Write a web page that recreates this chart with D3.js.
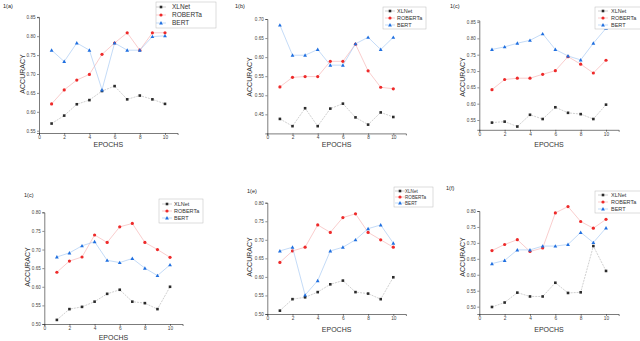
<!DOCTYPE html>
<html>
<head>
<meta charset="utf-8">
<script src="https://cdn.jsdelivr.net/npm/d3@7"></script>
<style>
  body { margin: 0; background: #fff; }
  text { font-family: "Liberation Sans", Arial, sans-serif; }
</style>
</head>
<body>
<div id="container"></div>
<script>
// epochs 1..10 for every panel
const epochs = [1, 2, 3, 4, 5, 6, 7, 8, 9, 10];
const xTicks = [0, 2, 4, 6, 8, 10];

// 1(a)
const xlnetA   = [0.569, 0.590, 0.620, 0.631, 0.655, 0.668, 0.633, 0.643, 0.633, 0.621];
const robertaA = [0.621, 0.658, 0.684, 0.699, 0.752, 0.782, 0.809, 0.763, 0.809, 0.809];
const bertA    = [0.763, 0.733, 0.782, 0.763, 0.658, 0.782, 0.763, 0.763, 0.799, 0.801];
const yTicksA  = [0.55, 0.60, 0.65, 0.70, 0.75, 0.80, 0.85];

// 1(b)
const xlnetB   = [0.438, 0.419, 0.466, 0.419, 0.465, 0.478, 0.442, 0.423, 0.455, 0.443];
const robertaB = [0.522, 0.547, 0.549, 0.549, 0.589, 0.589, 0.634, 0.564, 0.521, 0.517];
const bertB    = [0.684, 0.605, 0.605, 0.620, 0.579, 0.579, 0.635, 0.652, 0.620, 0.652];
const yTicksB  = [0.45, 0.50, 0.55, 0.60, 0.65, 0.70];

// 1(c)
const xlnetC   = [0.542, 0.545, 0.530, 0.566, 0.553, 0.589, 0.572, 0.568, 0.553, 0.597];
const robertaC = [0.643, 0.674, 0.678, 0.678, 0.690, 0.701, 0.744, 0.721, 0.694, 0.733];
const bertC    = [0.766, 0.774, 0.785, 0.794, 0.814, 0.766, 0.746, 0.734, 0.785, 0.831];
const yTicksC  = [0.55, 0.60, 0.65, 0.70, 0.75, 0.80, 0.85];

// 1(d) (labelled 1(c) in the figure)
const xlnetD   = [0.511, 0.540, 0.546, 0.560, 0.581, 0.592, 0.560, 0.556, 0.540, 0.600];
const robertaD = [0.639, 0.669, 0.680, 0.739, 0.719, 0.761, 0.770, 0.719, 0.700, 0.679];
const bertD    = [0.680, 0.691, 0.710, 0.721, 0.671, 0.665, 0.676, 0.650, 0.630, 0.659];
const yTicksD  = [0.50, 0.55, 0.60, 0.65, 0.70, 0.75, 0.80];

// 1(e)
const xlnetE   = [0.509, 0.540, 0.545, 0.559, 0.580, 0.590, 0.559, 0.555, 0.540, 0.599];
const robertaE = [0.639, 0.670, 0.680, 0.740, 0.720, 0.760, 0.770, 0.720, 0.700, 0.680];
const bertE    = [0.670, 0.680, 0.551, 0.590, 0.670, 0.680, 0.700, 0.730, 0.740, 0.691];
const yTicksE  = [0.50, 0.55, 0.60, 0.65, 0.70, 0.75, 0.80];

// 1(f)
const xlnetF   = [0.499, 0.513, 0.544, 0.532, 0.532, 0.575, 0.543, 0.545, 0.690, 0.612];
const robertaF = [0.676, 0.695, 0.710, 0.673, 0.684, 0.794, 0.814, 0.767, 0.746, 0.774];
const bertF    = [0.635, 0.645, 0.678, 0.678, 0.690, 0.690, 0.695, 0.733, 0.701, 0.747];
const yTicksF  = [0.50, 0.55, 0.60, 0.65, 0.70, 0.75, 0.80];

const seriesNames = ["XLNet", "ROBERTa", "BERT"];

// layout of the six little plots (pixels)
const panels = [
  { tag: "1(a)", tx: 3, ty: 8, x0: 39, x1: 177.6, dom: [0.544, 0.851], rng: [133, 16.9],
    ticks: yTicksA, data: [xlnetA, robertaA, bertA], xt: 146.5, yt: 24.5, ytY: 74,
    leg: { x: 156, y: 2, w: 60, h: 26, rows: [7, 15, 23], mx: 161, tx: 172, fs: 6.5 } },
  { tag: "1(b)", tx: 235, ty: 8, x0: 267.3, x1: 405.9, dom: [0.40, 0.70], rng: [133.4, 19],
    ticks: yTicksB, data: [xlnetB, robertaB, bertB], xt: 146.5, yt: 252, ytY: 77,
    leg: { x: 383, y: 7, w: 43, h: 22, rows: [11, 18, 25], mx: 390, tx: 397, fs: 5.5 } },
  { tag: "1(c)", tx: 450, ty: 8, x0: 479.3, x1: 618.7, dom: [0.52, 0.855], rng: [129.8, 20.4],
    ticks: yTicksC, data: [xlnetC, robertaC, bertC], xt: 146.5, yt: 464.5, ytY: 77,
    leg: { x: 595, y: 7, w: 50, h: 22, rows: [11, 18, 25], mx: 603, tx: 611, fs: 5.5 } },
  { tag: "1(c)", tx: 24, ty: 197, x0: 44.3, x1: 182.6, dom: [0.50, 0.80], rng: [324, 212.3],
    ticks: yTicksD, data: [xlnetD, robertaD, bertD], xt: 340.3, yt: 29.5, ytY: 267,
    leg: { x: 159, y: 199, w: 44, h: 24, rows: [204, 211, 218], mx: 167, tx: 174, fs: 5.5 } },
  { tag: "1(e)", tx: 247, ty: 193, x0: 267.3, x1: 405.9, dom: [0.50, 0.80], rng: [314, 202.7],
    ticks: yTicksE, data: [xlnetE, robertaE, bertE], xt: 331.5, yt: 252, ytY: 257,
    leg: { x: 394, y: 187, w: 39, h: 20, rows: [191, 197, 203], mx: 400, tx: 405, fs: 4.6 } },
  { tag: "1(f)", tx: 446, ty: 190, x0: 479.3, x1: 618.7, dom: [0.477, 0.80], rng: [314, 211],
    ticks: yTicksF, data: [xlnetF, robertaF, bertF], xt: 331.5, yt: 464.5, ytY: 257,
    leg: { x: 595, y: 191, w: 50, h: 22, rows: [195, 202, 209], mx: 603, tx: 611, fs: 5.5 } }
];

const markColor = ["#2b2b2b", "#ee2a2a", "#1f6fe0"];
const lineColor = ["#b0b0b0", "#f5abab", "#9cc3f2"];

const svg = d3.select("#container").append("svg")
  .attr("width", 640)
  .attr("height", 341);

function marker(g, i, x, y) {
  if (i === 0) {
    g.append("rect").attr("x", x - 1.3).attr("y", y - 1.3)
      .attr("width", 2.6).attr("height", 2.6).attr("fill", markColor[0]);
  } else if (i === 1) {
    g.append("circle").attr("cx", x).attr("cy", y).attr("r", 1.6).attr("fill", markColor[1]);
  } else {
    const s = 1.9;
    g.append("path")
      .attr("d", `M${x},${y - s}L${x + s},${y + s * 0.8}L${x - s},${y + s * 0.8}Z`)
      .attr("fill", markColor[2]);
  }
}

panels.forEach(p => {
  const g = svg.append("g");

  const x = d3.scaleLinear().domain([0, 11]).range([p.x0, p.x1]);
  const y = d3.scaleLinear().domain(p.dom).range(p.rng);
  const yBase = p.rng[0];

  g.append("text").attr("x", p.tx).attr("y", p.ty)
    .attr("font-size", 5.5).attr("fill", "#222").text(p.tag);

  // x axis
  const xa = g.append("g")
    .attr("transform", `translate(0,${yBase})`)
    .call(d3.axisBottom(x).tickValues(xTicks).tickSize(2).tickPadding(0.5).tickFormat(d3.format("d")));
  xa.select(".domain").attr("stroke", "#222").attr("stroke-width", 0.6);
  xa.selectAll(".tick line").attr("stroke", "#222").attr("stroke-width", 0.5);
  xa.selectAll("text").attr("font-size", 4.8).attr("fill", "#444");

  // y axis
  const ya = g.append("g")
    .attr("transform", `translate(${p.x0},0)`)
    .call(d3.axisLeft(y).tickValues(p.ticks).tickSize(2).tickPadding(1.5).tickFormat(d3.format(".2f")));
  ya.select(".domain").attr("stroke", "#222").attr("stroke-width", 0.6);
  ya.selectAll(".tick line").attr("stroke", "#222").attr("stroke-width", 0.5);
  ya.selectAll("text").attr("font-size", 4.6).attr("fill", "#444");

  g.append("text").attr("x", (x(0) + x(11)) / 2).attr("y", p.xt)
    .attr("text-anchor", "middle").attr("font-size", 7).attr("fill", "#333").text("EPOCHS");

  g.append("text")
    .attr("transform", `translate(${p.yt},${p.ytY}) rotate(-90)`)
    .attr("text-anchor", "middle").attr("font-size", 7).attr("fill", "#333").text("ACCURACY");

  const line = d3.line().x((d, k) => x(epochs[k])).y(d => y(d));

  p.data.forEach((vals, i) => {
    g.append("path").datum(vals)
      .attr("d", line)
      .attr("fill", "none")
      .attr("stroke", lineColor[i])
      .attr("stroke-width", 0.6)
      .attr("stroke-dasharray", i === 0 ? "2,1" : null);
    vals.forEach((v, k) => marker(g, i, x(epochs[k]), y(v)));
  });
});

// legends drawn last so they sit over neighbouring plots
panels.forEach(p => {
  const l = p.leg;
  const g = svg.append("g");
  g.append("rect").attr("x", l.x).attr("y", l.y).attr("width", l.w).attr("height", l.h)
    .attr("fill", "#fff").attr("stroke", "#bbb").attr("stroke-width", 0.5);
  seriesNames.forEach((name, i) => {
    const yy = l.rows[i];
    g.append("line").attr("x1", l.mx - 5).attr("x2", l.mx + 5).attr("y1", yy).attr("y2", yy)
      .attr("stroke", lineColor[i]).attr("stroke-width", 0.6);
    marker(g, i, l.mx, yy);
    g.append("text").attr("x", l.tx).attr("y", yy + l.fs * 0.35)
      .attr("font-size", l.fs).attr("fill", "#333").text(name);
  });
});
</script>
</body>
</html>
